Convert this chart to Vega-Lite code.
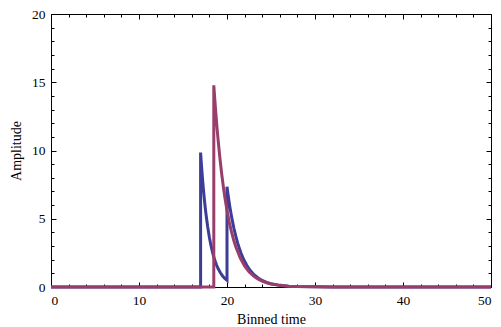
{
  "$schema": "https://vega.github.io/schema/vega-lite/v6.json",
  "width": 440,
  "height": 273,
  "autosize": {"type": "none"},
  "padding": {"left": 51, "top": 14, "right": 10, "bottom": 40},
  "background": "white",
  "config": {
    "view": {"stroke": "#000", "strokeWidth": 1},
    "font": "Liberation Serif",
    "axis": {"grid": false, "domain": false, "tickColor": "#000", "tickWidth": 1, "labelColor": "#000", "titleColor": "#000", "labelFont": "Liberation Serif", "titleFont": "Liberation Serif", "labelFontSize": 13.5, "titleFontSize": 14, "titleFontWeight": "normal"}
  },
  "title": {"text": "Binned time", "font": "Liberation Serif", "fontSize": 14, "fontWeight": "normal", "color": "#000", "anchor": "middle", "frame": "group", "offset": 10.5, "baseline": "alphabetic"},
  "data": {"values": [
    {"s": "a", "i": 0, "x": 0, "y": 0},
    {"s": "a", "i": 1, "x": 17, "y": 0},
    {"s": "a", "i": 2, "x": 17, "y": 9.85},
    {"s": "a", "i": 3, "x": 17.1, "y": 8.91},
    {"s": "a", "i": 4, "x": 17.2, "y": 8.06},
    {"s": "a", "i": 5, "x": 17.3, "y": 7.3},
    {"s": "a", "i": 6, "x": 17.4, "y": 6.6},
    {"s": "a", "i": 7, "x": 17.5, "y": 5.97},
    {"s": "a", "i": 8, "x": 17.6, "y": 5.4},
    {"s": "a", "i": 9, "x": 17.8, "y": 4.43},
    {"s": "a", "i": 10, "x": 18.0, "y": 3.62},
    {"s": "a", "i": 11, "x": 18.2, "y": 2.97},
    {"s": "a", "i": 12, "x": 18.4, "y": 2.43},
    {"s": "a", "i": 13, "x": 18.6, "y": 1.99},
    {"s": "a", "i": 14, "x": 18.8, "y": 1.63},
    {"s": "a", "i": 15, "x": 19.0, "y": 1.33},
    {"s": "a", "i": 16, "x": 19.25, "y": 1.04},
    {"s": "a", "i": 17, "x": 19.5, "y": 0.81},
    {"s": "a", "i": 18, "x": 19.75, "y": 0.63},
    {"s": "a", "i": 19, "x": 20.0, "y": 0.49},
    {"s": "a", "i": 20, "x": 20.0, "y": 7.34},
    {"s": "a", "i": 21, "x": 20.1, "y": 6.86},
    {"s": "a", "i": 22, "x": 20.2, "y": 6.41},
    {"s": "a", "i": 23, "x": 20.3, "y": 5.98},
    {"s": "a", "i": 24, "x": 20.4, "y": 5.59},
    {"s": "a", "i": 25, "x": 20.5, "y": 5.22},
    {"s": "a", "i": 26, "x": 20.6, "y": 4.88},
    {"s": "a", "i": 27, "x": 20.8, "y": 4.26},
    {"s": "a", "i": 28, "x": 21.0, "y": 3.72},
    {"s": "a", "i": 29, "x": 21.2, "y": 3.25},
    {"s": "a", "i": 30, "x": 21.4, "y": 2.83},
    {"s": "a", "i": 31, "x": 21.6, "y": 2.47},
    {"s": "a", "i": 32, "x": 21.8, "y": 2.16},
    {"s": "a", "i": 33, "x": 22.0, "y": 1.88},
    {"s": "a", "i": 34, "x": 22.25, "y": 1.59},
    {"s": "a", "i": 35, "x": 22.5, "y": 1.34},
    {"s": "a", "i": 36, "x": 22.75, "y": 1.13},
    {"s": "a", "i": 37, "x": 23.0, "y": 0.95},
    {"s": "a", "i": 38, "x": 23.5, "y": 0.68},
    {"s": "a", "i": 39, "x": 24.0, "y": 0.48},
    {"s": "a", "i": 40, "x": 24.5, "y": 0.34},
    {"s": "a", "i": 41, "x": 25.0, "y": 0.24},
    {"s": "a", "i": 42, "x": 26.0, "y": 0.12},
    {"s": "a", "i": 43, "x": 27.0, "y": 0.06},
    {"s": "a", "i": 44, "x": 28.0, "y": 0.03},
    {"s": "a", "i": 45, "x": 30.0, "y": 0.01},
    {"s": "a", "i": 46, "x": 32.0, "y": 0},
    {"s": "a", "i": 47, "x": 50.0, "y": 0},
    {"s": "b", "i": 0, "x": 0, "y": 0},
    {"s": "b", "i": 1, "x": 18.5, "y": 0},
    {"s": "b", "i": 2, "x": 18.5, "y": 14.78},
    {"s": "b", "i": 3, "x": 18.6, "y": 13.86},
    {"s": "b", "i": 4, "x": 18.7, "y": 12.99},
    {"s": "b", "i": 5, "x": 18.8, "y": 12.18},
    {"s": "b", "i": 6, "x": 18.9, "y": 11.42},
    {"s": "b", "i": 7, "x": 19.0, "y": 10.7},
    {"s": "b", "i": 8, "x": 19.2, "y": 9.41},
    {"s": "b", "i": 9, "x": 19.4, "y": 8.27},
    {"s": "b", "i": 10, "x": 19.6, "y": 7.27},
    {"s": "b", "i": 11, "x": 19.8, "y": 6.39},
    {"s": "b", "i": 12, "x": 20.0, "y": 5.61},
    {"s": "b", "i": 13, "x": 20.25, "y": 4.78},
    {"s": "b", "i": 14, "x": 20.5, "y": 4.07},
    {"s": "b", "i": 15, "x": 20.75, "y": 3.46},
    {"s": "b", "i": 16, "x": 21.0, "y": 2.95},
    {"s": "b", "i": 17, "x": 21.5, "y": 2.14},
    {"s": "b", "i": 18, "x": 22.0, "y": 1.55},
    {"s": "b", "i": 19, "x": 22.5, "y": 1.12},
    {"s": "b", "i": 20, "x": 23.0, "y": 0.81},
    {"s": "b", "i": 21, "x": 23.5, "y": 0.59},
    {"s": "b", "i": 22, "x": 24.0, "y": 0.43},
    {"s": "b", "i": 23, "x": 24.5, "y": 0.31},
    {"s": "b", "i": 24, "x": 25.0, "y": 0.22},
    {"s": "b", "i": 25, "x": 26.0, "y": 0.12},
    {"s": "b", "i": 26, "x": 27.0, "y": 0.06},
    {"s": "b", "i": 27, "x": 28.0, "y": 0.03},
    {"s": "b", "i": 28, "x": 30.0, "y": 0.01},
    {"s": "b", "i": 29, "x": 32.0, "y": 0},
    {"s": "b", "i": 30, "x": 50.0, "y": 0}
  ]},
  "resolve": {"axis": {"x": "independent", "y": "independent"}},
  "layer": [
    {
      "mark": {"type": "point", "opacity": 0},
      "encoding": {
        "x": {"field": "x", "type": "quantitative", "scale": {"domain": [0, 50], "nice": false, "zero": false}, "axis": {"orient": "bottom", "values": [2,4,6,8,12,14,16,18,22,24,26,28,32,34,36,38,42,44,46,48], "labels": false, "tickSize": -3, "title": null}},
        "y": {"field": "y", "type": "quantitative", "scale": {"domain": [0, 20], "nice": false, "zero": false}, "axis": {"orient": "left", "values": [1,2,3,4,6,7,8,9,11,12,13,14,16,17,18,19], "labels": false, "tickSize": -3, "title": null}}
      }
    },
    {
      "mark": {"type": "point", "opacity": 0},
      "encoding": {
        "x": {"field": "x", "type": "quantitative", "axis": {"orient": "top", "values": [0,10,20,30,40,50], "labels": false, "tickSize": -5, "title": null}},
        "y": {"field": "y", "type": "quantitative", "axis": {"orient": "right", "values": [0,5,10,15,20], "labels": false, "tickSize": -5, "title": null}}
      }
    },
    {
      "mark": {"type": "point", "opacity": 0},
      "encoding": {
        "x": {"field": "x", "type": "quantitative", "axis": {"orient": "top", "values": [2,4,6,8,12,14,16,18,22,24,26,28,32,34,36,38,42,44,46,48], "labels": false, "tickSize": -3, "title": null}},
        "y": {"field": "y", "type": "quantitative", "axis": {"orient": "right", "values": [1,2,3,4,6,7,8,9,11,12,13,14,16,17,18,19], "labels": false, "tickSize": -3, "title": null}}
      }
    },
    {
      "mark": {"type": "line", "strokeWidth": 3, "clip": false},
      "encoding": {
        "x": {"field": "x", "type": "quantitative", "axis": {"orient": "bottom", "values": [0,10,20,30,40,50], "tickSize": -5, "labelPadding": 11, "title": "Binned time", "titlePadding": 6}},
        "y": {"field": "y", "type": "quantitative", "axis": {"orient": "left", "values": [0,5,10,15,20], "tickSize": -5, "labelPadding": 11, "title": "Amplitude", "titlePadding": 8}},
        "color": {"field": "s", "type": "nominal", "scale": {"domain": ["a", "b"], "range": ["#3d3d99", "#993d6b"]}, "legend": null},
        "order": {"field": "i", "type": "quantitative"}
      }
    }
  ]
}
